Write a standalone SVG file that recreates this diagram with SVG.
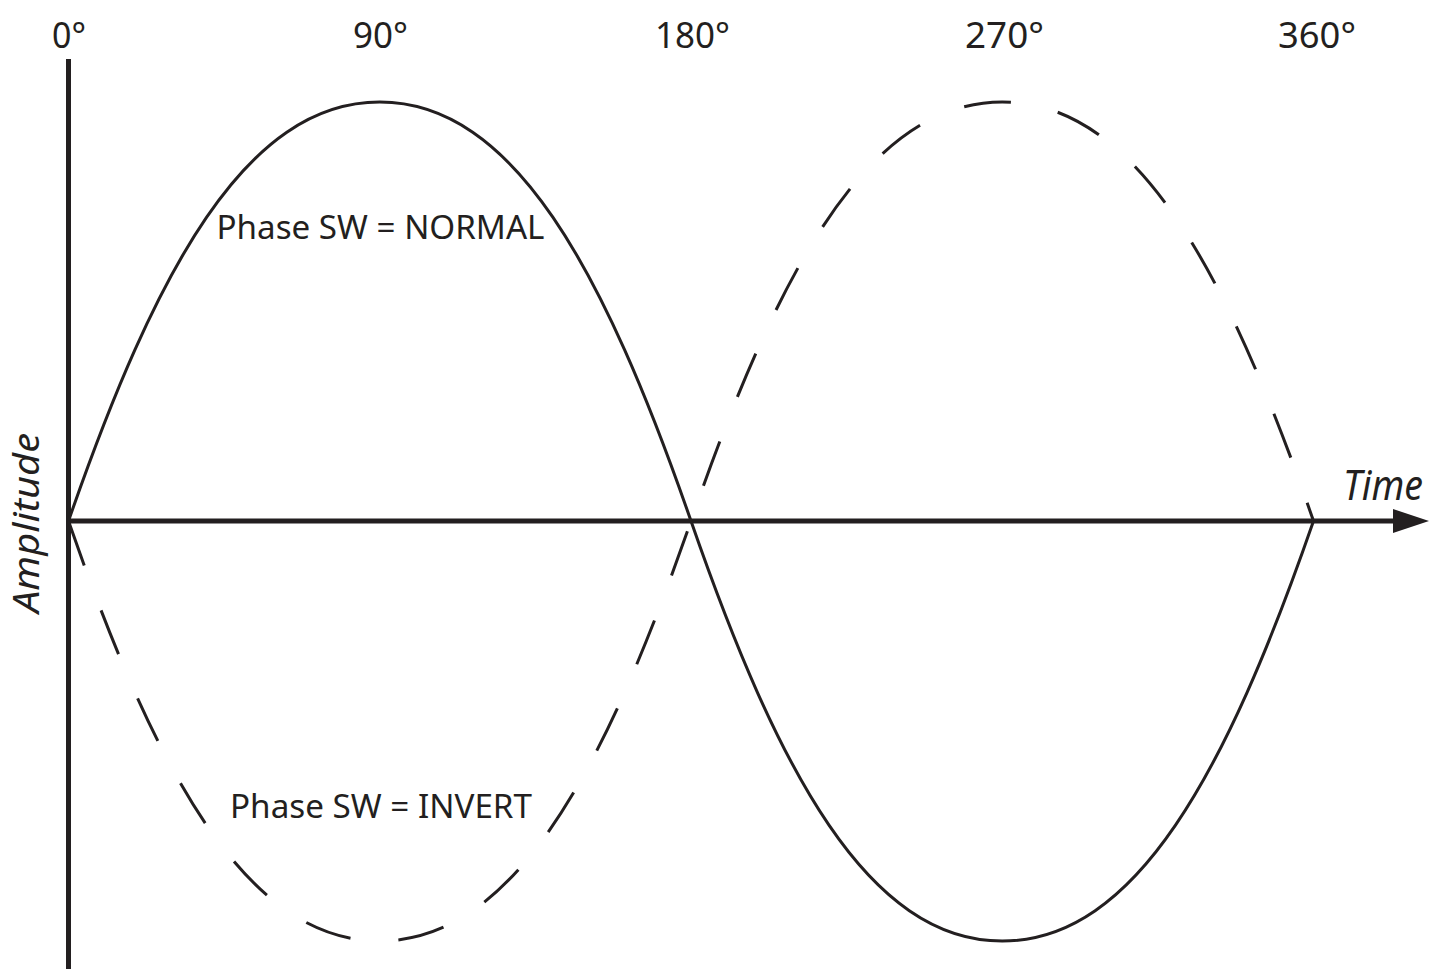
<svg xmlns="http://www.w3.org/2000/svg" width="1429" height="969" viewBox="0 0 1429 969">
  <style>
    .lbl { font-family: "Noto Sans", "Open Sans", "Liberation Sans", sans-serif; fill: #231f20; }
    .it { font-style: italic; }
    .axis { stroke: #231f20; stroke-width: 5; fill: none; }
    .wave { stroke: #231f20; stroke-width: 3; fill: none; }
    .dash { stroke-dasharray: 47 48; }
  </style>
  <rect width="1429" height="969" fill="#ffffff"/>
  <g id="axes">
    <line class="axis" x1="68.5" y1="59" x2="68.5" y2="969"/>
    <line class="axis" x1="68.5" y1="521" x2="1396" y2="521"/>
    <polygon points="1393,509 1429,521 1393,533" fill="#231f20"/>
  </g>
  <g id="waves">
    <path id="normal" class="wave" d="M68.5,521 C155.5,270 245.75,102 379.75,102 C513.75,102 604,270 691,521 C778,772 868.25,941 1002.25,941 C1136.25,941 1226.5,772 1313.5,521"/>
    <path id="invert" class="wave dash" pathLength="2204" d="M68.5,521 C155.5,772 245.75,941 379.75,941 C513.75,941 604,772 691,521 C778,270 868.25,102 1002.25,102 C1136.25,102 1226.5,270 1313.5,521"/>
  </g>
  <g id="labels">
    <text class="lbl" x="52" y="48" font-size="37" textLength="34" lengthAdjust="spacingAndGlyphs">0°</text>
    <text class="lbl" x="353" y="48" font-size="37" textLength="55" lengthAdjust="spacingAndGlyphs">90°</text>
    <text class="lbl" x="655" y="48" font-size="37" textLength="75" lengthAdjust="spacingAndGlyphs">180°</text>
    <text class="lbl" x="965" y="48" font-size="37" textLength="79" lengthAdjust="spacingAndGlyphs">270°</text>
    <text class="lbl" x="1278" y="48" font-size="37" textLength="78" lengthAdjust="spacingAndGlyphs">360°</text>
    <text class="lbl" x="216.5" y="238.5" font-size="33" textLength="328" lengthAdjust="spacingAndGlyphs">Phase SW = NORMAL</text>
    <text class="lbl" x="230" y="817.5" font-size="33" textLength="302" lengthAdjust="spacingAndGlyphs">Phase SW = INVERT</text>
    <text class="lbl it" x="1343" y="500" font-size="41" textLength="80" lengthAdjust="spacingAndGlyphs">Time</text>
    <text class="lbl it" transform="translate(39,613) rotate(-90)" x="0" y="0" font-size="37" textLength="180" lengthAdjust="spacingAndGlyphs">Amplitude</text>
  </g>
</svg>
